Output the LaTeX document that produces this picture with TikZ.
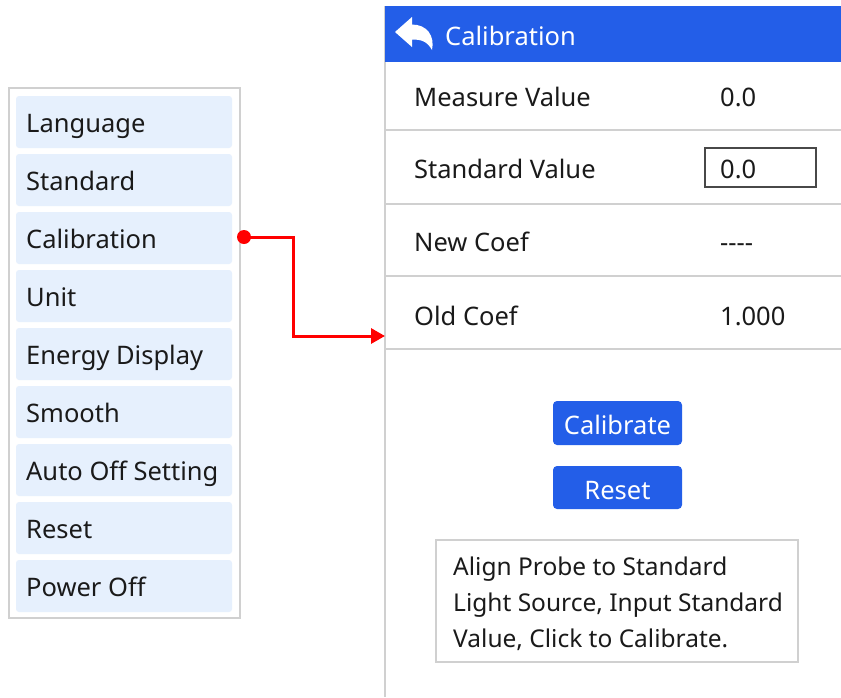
\documentclass[tikz,border=0pt]{standalone}
\usepackage{fontspec}
\setmainfont{Noto Sans}
\usetikzlibrary{arrows.meta}
\definecolor{itemfill}{HTML}{E6F0FD}
\definecolor{hdrblue}{HTML}{235EE8}
\definecolor{gline}{HTML}{D0D0D0}
\definecolor{txt}{HTML}{1A1A1A}
\definecolor{redc}{HTML}{FF0000}
\tikzset{
  item/.style={fill=itemfill, rounded corners=3pt},
  lbl/.style={anchor=base west, inner sep=0pt, text=txt, font=\fontsize{25.5}{30}\selectfont},
  ilbl/.style={anchor=base west, inner sep=0pt, text=txt, font=\fontsize{24.5}{29}\selectfont},
  wlbl/.style={anchor=base, inner sep=0pt, text=white, font=\fontsize{25.5}{30}\selectfont},
  btn/.style={fill=hdrblue, rounded corners=4pt},
  sep/.style={draw=gline, line width=1.2pt},
}
\begin{document}
\begin{tikzpicture}[x=1pt,y=-1pt]
\useasboundingbox (0,0) rectangle (841,697);
% left panel
\draw[gline, line width=1.2pt, fill=white] (9,88) rectangle (240,618);
\foreach \t [count=\i from 0] in {Language,Standard,Calibration,Unit,Energy Display,Smooth,Auto Off Setting,Reset,Power Off}{
  \pgfmathsetmacro{\yt}{96+58*\i}
  \fill[item] (16,\yt) rectangle (232,\yt+52);
  \node[lbl] (m\i) at (26,\yt+36.5) {\t};
}
\coordinate (dot) at (244,237);
% right panel
\draw[sep] (385,6) -- (385,697);
\fill[hdrblue] (385,6) rectangle (841,62);
\fill[white] (395,32) -- (412,17) -- (412,24.5) .. controls (427,24.5) and (435,36) .. (432,50)
  .. controls (427,41) and (421,39.5) .. (412,39.5) -- (412,47) -- cycle;
\node[lbl, text=white] (title) at (445,45) {Calibration};
\draw[sep] (385,130) -- (841,130);
\draw[sep] (385,204) -- (841,204);
\draw[sep] (385,276) -- (841,276);
\draw[sep] (385,349) -- (841,349);
\node[lbl] (mv) at (414,106) {Measure Value};
\node[lbl] (mvv) at (720,106) {0.0};
\node[lbl] (sv) at (414,178) {Standard Value};
\draw[draw=txt!80, line width=1.2pt] (705,148) rectangle (816,187);
\node[lbl] (svv) at (720,178) {0.0};
\node[lbl] (nc) at (414,251) {New Coef};
\node[lbl] (ncv) at (720,251) {{-}{-}{-}{-}};
\node[lbl] (oc) at (414,325) {Old Coef};
\node[lbl] (ocv) at (720,325) {1.000};
\coordinate (arr) at (385,336);
% buttons
\fill[btn] (553,401) rectangle (682,445);
\node[wlbl] (cal) at (617.5,434) {Calibrate};
\fill[btn] (553,466) rectangle (682,509);
\node[wlbl] (rst) at (617.5,499) {Reset};
% info box
\draw[gline, line width=1.2pt] (436,540) rectangle (798,662);
\node[ilbl] (i1) at (453,575) {Align Probe to Standard};
\node[ilbl] (i2) at (453,611) {Light Source, Input Standard};
\node[ilbl] (i3) at (453,647) {Value, Click to Calibrate.};
% connector
\draw[redc, line width=3pt, -{Triangle[length=14pt,width=15pt]}] (dot) -- (293,237) -- (293,336) -- (arr);
\fill[redc] (dot) circle (7);
\end{tikzpicture}
\end{document}
